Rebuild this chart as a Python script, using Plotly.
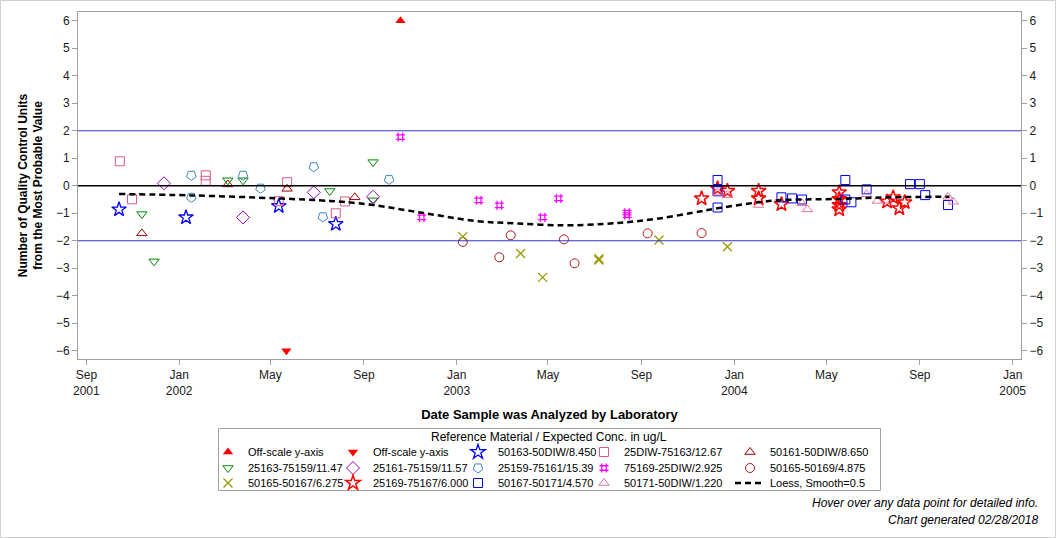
import plotly.graph_objects as go

# ---------------- data ----------------
off_up_dates = ["2002-10-19"]
off_up_vals = [6.0]
off_dn_dates = ["2002-05-22"]
off_dn_vals = [-6.0]

s50163_dates = ["2001-10-14", "2002-01-10", "2002-05-12", "2002-07-26"]
s50163_vals = [-0.86, -1.15, -0.74, -1.39]

s25diw_dates = ["2001-10-15", "2001-10-31", "2002-02-05", "2002-02-05", "2002-05-12",
                "2002-05-23", "2002-07-26", "2002-08-07"]
s25diw_vals = [0.89, -0.49, 0.38, 0.18, -0.56, 0.13, -1.00, -0.57]

s50161_dates = ["2001-11-13", "2002-03-06", "2002-05-23", "2002-08-20"]
s50161_vals = [-1.73, 0.05, -0.11, -0.42]

s25163_dates = ["2001-11-13", "2001-11-29", "2002-03-06", "2002-03-26", "2002-07-18",
                "2002-09-13", "2002-09-13"]
s25163_vals = [-1.03, -2.75, 0.20, 0.20, -0.19, 0.86, -0.53]

s25161_dates = ["2001-12-12", "2002-03-26", "2002-06-27", "2002-09-13"]
s25161_vals = [0.09, -1.15, -0.24, -0.40]

s25159_dates = ["2002-01-17", "2002-01-17", "2002-03-26", "2002-04-18", "2002-06-27",
                "2002-07-09", "2002-10-04"]
s25159_vals = [0.38, -0.42, 0.38, -0.09, 0.69, -1.13, 0.23]

s75169_dates = ["2002-10-19", "2002-11-16", "2003-01-30", "2003-02-26", "2003-04-24",
                "2003-05-15", "2003-08-13", "2003-08-13"]
s75169_vals = [1.77, -1.15, -0.53, -0.71, -1.15, -0.46, -0.98, -1.07]

s50169_dates = ["2003-01-09", "2003-02-26", "2003-03-13", "2003-05-22", "2003-06-05",
                "2003-09-09", "2003-11-19"]
s50169_vals = [-2.04, -2.60, -1.80, -1.95, -2.82, -1.73, -1.72]

s50167_dates = ["2003-01-09", "2003-03-26", "2003-04-24", "2003-07-07", "2003-07-07",
                "2003-09-24", "2003-12-23"]
s50167_vals = [-1.85, -2.46, -3.33, -2.70, -2.65, -1.97, -2.22]

s25169_dates = ["2003-11-19", "2003-12-10", "2003-12-23", "2004-02-02", "2004-02-02",
                "2004-03-03", "2004-05-18", "2004-05-18", "2004-05-18", "2004-05-18",
                "2004-07-20", "2004-07-28", "2004-08-05", "2004-08-12"]
s25169_vals = [-0.46, -0.10, -0.19, -0.19, -0.46, -0.67, -0.24, -0.49, -0.70, -0.86,
               -0.58, -0.42, -0.82, -0.60]

s50171_dates = ["2003-12-10", "2003-12-10", "2003-12-10", "2004-03-03", "2004-03-17",
                "2004-03-30", "2004-05-26", "2004-05-26", "2004-06-03", "2004-06-23",
                "2004-08-19", "2004-09-01", "2004-09-08", "2004-10-08"]
s50171_vals = [0.21, -0.20, -0.79, -0.42, -0.46, -0.50, 0.21, -0.50, -0.60, -0.13,
               0.06, 0.06, -0.34, -0.70]

s50171diw_dates = ["2003-12-10", "2003-12-23", "2004-02-02", "2004-03-30", "2004-04-06",
                   "2004-06-23", "2004-07-07", "2004-07-20", "2004-10-08", "2004-10-15"]
s50171diw_vals = [-0.25, -0.34, -0.70, -0.64, -0.86, -0.31, -0.55, -0.55, -0.40, -0.58]

loess_dates = ["2001-10-14", "2002-01-17", "2002-05-12", "2002-07-18", "2002-08-07",
               "2002-09-13", "2002-11-16", "2003-01-26", "2003-03-20", "2003-05-22",
               "2003-07-14", "2003-08-18", "2003-09-24", "2003-11-08", "2003-12-10",
               "2004-02-02", "2004-03-03", "2004-05-18", "2004-07-24", "2004-10-10"]
loess_vals = [-0.30, -0.35, -0.46, -0.55, -0.59, -0.70, -0.98, -1.28, -1.37, -1.44,
              -1.39, -1.31, -1.19, -0.98, -0.82, -0.60, -0.52, -0.48, -0.42, -0.40]

tick_vals = ["2001-09-01", "2002-01-01", "2002-05-01", "2002-09-01", "2003-01-01",
             "2003-05-01", "2003-09-01", "2004-01-01", "2004-05-01", "2004-09-01",
             "2005-01-01"]
tick_text = ["Sep<br>2001", "Jan<br>2002", "May", "Sep", "Jan<br>2003", "May", "Sep",
             "Jan<br>2004", "May", "Sep", "Jan<br>2005"]
y_ticks = [-6, -5, -4, -3, -2, -1, 0, 1, 2, 3, 4, 5, 6]

# ---------------- figure ----------------
FONT = "Arial, Liberation Sans, sans-serif"
ML, MR, MT, MB = 78, 35, 12, 179
W, H = 1056, 538
PW, PH = W - ML - MR, H - MT - MB

# legend grid (symbol centre in page pixels)
LEG_COLS = [229, 354, 479, 605, 751]
LEG_ROWS = [452, 468, 483]


def px_x(p):
    return (p - ML) / PW


def px_y(p):
    return (H - MB - p) / PH


fig = go.Figure()
legend_layouts = {}
counter = [0]


def next_legend():
    i = counter[0]
    counter[0] += 1
    row, col = divmod(i, 5)
    name = "legend" if i == 0 else f"legend{i + 1}"
    legend_layouts[name] = dict(
        orientation="h", x=px_x(LEG_COLS[col] - 21), xanchor="left",
        y=px_y(LEG_ROWS[row]), yanchor="middle",
        borderwidth=0, bgcolor="rgba(0,0,0,0)", itemwidth=30,
        font=dict(size=11, color="black"),
    )
    return name


def add(name, xs, ys, symbol, color, size=9, angle=0, lw=1.0):
    fig.add_trace(go.Scatter(
        x=xs, y=ys, mode="markers", name=name, legend=next_legend(),
        marker=dict(symbol=symbol, color=color, size=size, angle=angle,
                    line=dict(color=color, width=lw)),
    ))


add("Off-scale y-axis", off_up_dates, off_up_vals, "triangle-up", "#ff0000", size=9, lw=0)
add("Off-scale y-axis", off_dn_dates, off_dn_vals, "triangle-down", "#ff0000", size=9, lw=0)
add("50163-50DIW/8.450", s50163_dates, s50163_vals, "star-open", "#0000ff", size=11, lw=1.3)
add("25DIW-75163/12.67", s25diw_dates, s25diw_vals, "square-open", "#e0578a", size=9)
add("50161-50DIW/8.650", s50161_dates, s50161_vals, "triangle-up-open", "#a00000", size=9)
add("25163-75159/11.47", s25163_dates, s25163_vals, "triangle-down-open", "#008800", size=9)
add("25161-75159/11.57", s25161_dates, s25161_vals, "diamond-open", "#9900bb", size=10)
add("25159-75161/15.39", s25159_dates, s25159_vals, "pentagon-open", "#3a88b8", size=10, angle=180)
add("75169-25DIW/2.925", s75169_dates, s75169_vals, "hash-open", "#ff00ff", size=9, lw=1.3)
add("50165-50169/4.875", s50169_dates, s50169_vals, "circle-open", "#b01818", size=9)
add("50165-50167/6.275", s50167_dates, s50167_vals, "x-thin-open", "#999900", size=9, lw=1.3)
add("25169-75167/6.000", s25169_dates, s25169_vals, "star-open", "#ff0000", size=11, lw=1.5)
add("50167-50171/4.570", s50171_dates, s50171_vals, "square-open", "#0000ff", size=9)
add("50171-50DIW/1.220", s50171diw_dates, s50171diw_vals, "triangle-up-open", "#e8739a", size=9)

fig.add_trace(go.Scatter(
    x=loess_dates, y=loess_vals, mode="lines", name="Loess, Smooth=0.5", legend=next_legend(),
    line=dict(color="black", width=2.5, dash="6px,4px", shape="spline"),
))

# invisible trace for right axis
fig.add_trace(go.Scatter(x=[tick_vals[0]], y=[0], yaxis="y2", mode="markers",
                         marker=dict(opacity=0), showlegend=False, hoverinfo="skip"))

# reference lines
fig.add_hline(y=2, line=dict(color="#3333cc", width=1))
fig.add_hline(y=-2, line=dict(color="#3333cc", width=1))
fig.add_hline(y=0, line=dict(color="black", width=1.3))

yr = [-6.3, 6.32]

fig.update_layout(
    width=W, height=H,
    margin=dict(l=ML, r=MR, t=MT, b=MB),
    paper_bgcolor="white", plot_bgcolor="white",
    font=dict(family=FONT, size=12, color="black"),
    showlegend=True,
    xaxis=dict(
        type="date", range=["2001-08-21", "2005-01-12"],
        tickvals=tick_vals, ticktext=tick_text,
        showgrid=False, zeroline=False,
        showline=True, linecolor="#a0a0a0", linewidth=1, mirror=True,
        ticks="outside", ticklen=5, tickcolor="#a0a0a0",
        tickfont=dict(size=12, color="#202020"),
        title=dict(text="<b>Date Sample was Analyzed by Laboratory</b>",
                   font=dict(size=13), standoff=12),
    ),
    yaxis=dict(
        range=yr, tickvals=y_ticks, showgrid=False, zeroline=False,
        showline=True, linecolor="#a0a0a0", linewidth=1,
        ticks="outside", ticklen=5, tickcolor="#a0a0a0",
        tickfont=dict(size=12, color="#202020"),
        title=dict(text="<b>Number of Quality Control Units<br>from the Most Probable Value</b>",
                   font=dict(size=12), standoff=10),
    ),
    yaxis2=dict(
        range=yr, tickvals=y_ticks, overlaying="y", side="right",
        showgrid=False, zeroline=False,
        showline=True, linecolor="#a0a0a0", linewidth=1,
        ticks="outside", ticklen=5, tickcolor="#a0a0a0",
        tickfont=dict(size=12, color="#202020"),
    ),
    annotations=[
        dict(text="Reference Material / Expected Conc. in ug/L", xref="paper", yref="paper",
             x=px_x(549), y=px_y(437), xanchor="center", yanchor="middle",
             showarrow=False, font=dict(size=12)),
        dict(text="<i>Hover over any data point for detailed info.</i>", xref="paper", yref="paper",
             x=px_x(1040), y=px_y(503), xanchor="right", yanchor="middle",
             showarrow=False, font=dict(size=12)),
        dict(text="<i>Chart generated 02/28/2018</i>", xref="paper", yref="paper",
             x=px_x(1040), y=px_y(520), xanchor="right", yanchor="middle",
             showarrow=False, font=dict(size=12)),
    ],
)
fig.update_layout(**legend_layouts)

# legend frame
fig.add_shape(type="rect", xref="paper", yref="paper",
              x0=px_x(218.5), x1=px_x(880.5), y0=px_y(490.5), y1=px_y(428.5),
              line=dict(color="#a0a0a0", width=1))
# outer page frame
fig.add_shape(type="rect", xref="paper", yref="paper",
              x0=px_x(0.5), x1=px_x(W - 0.5), y0=px_y(H - 0.5), y1=px_y(0.5),
              line=dict(color="#d0d0d0", width=1), layer="below")

fig.write_html("out.html")
